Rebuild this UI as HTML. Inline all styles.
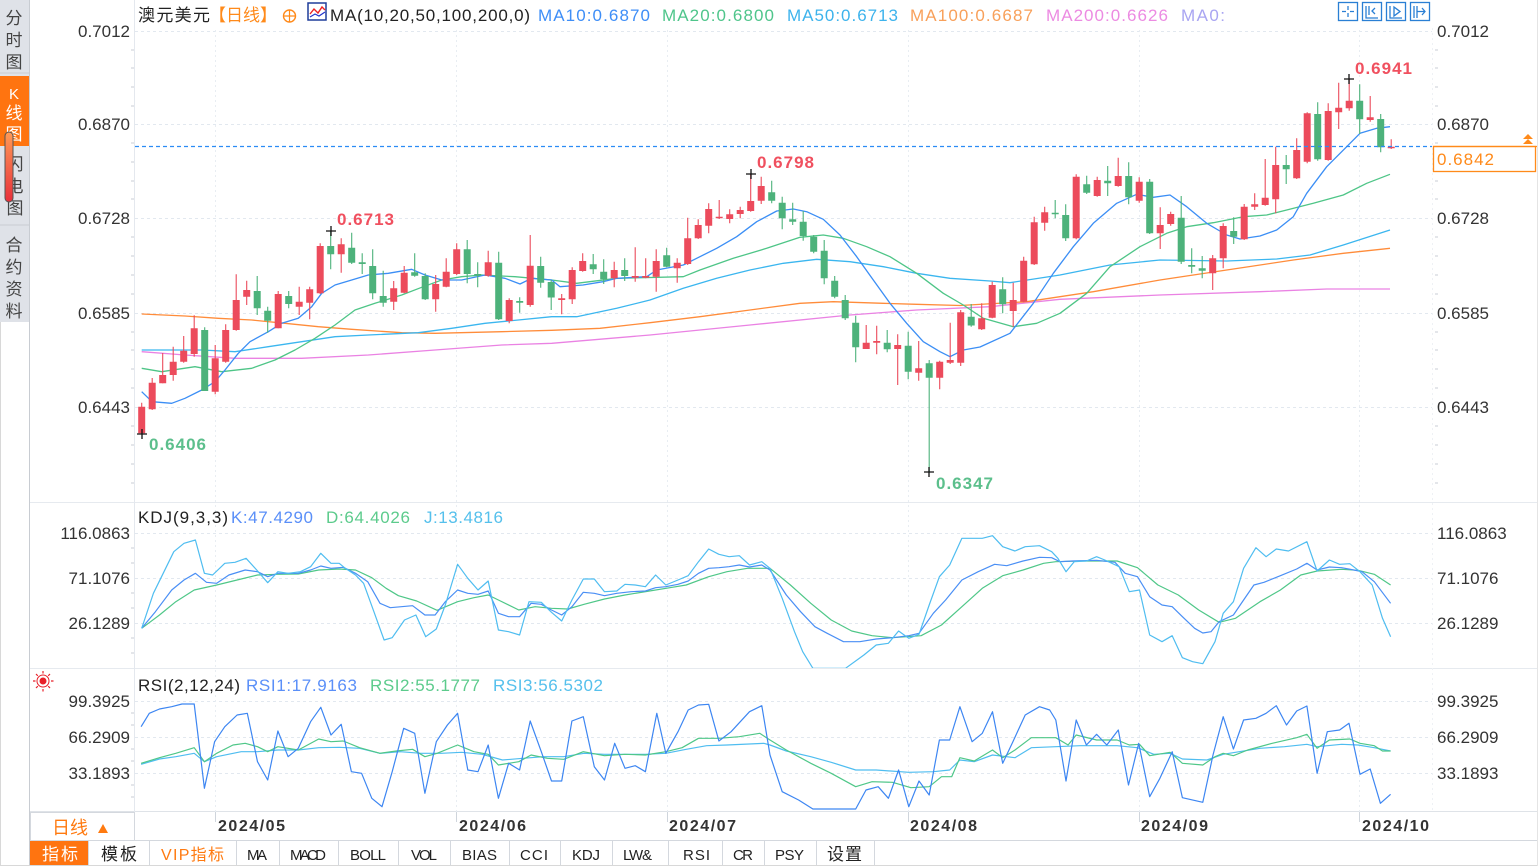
<!DOCTYPE html>
<html><head><meta charset="utf-8"><style>
html,body{margin:0;padding:0;background:#fff;width:1538px;height:866px;overflow:hidden}
svg{display:block}
text{font-family:"Liberation Sans","Noto Sans CJK SC",sans-serif}
.ax{font-size:17px;fill:#333}
.tb{font-family:"Liberation Serif","Noto Serif CJK SC",serif;font-size:15px;fill:#222}
</style></head><body>
<svg width="1538" height="866" viewBox="0 0 1538 866" xmlns="http://www.w3.org/2000/svg">
<!-- sidebar -->
<rect x="0" y="0" width="29" height="322" fill="#dfe2e8"/>
<rect x="0" y="76" width="29" height="70" fill="#ff7410"/>
<line x1="0" y1="73" x2="29" y2="73" stroke="#c9ccd2"/>
<line x1="0" y1="225" x2="29" y2="225" stroke="#c9ccd2"/>
<line x1="29.5" y1="0" x2="29.5" y2="866" stroke="#c8ccd2"/>
<line x1="0.5" y1="322" x2="0.5" y2="866" stroke="#d8d8d8"/>
<g font-size="17" fill="#444" text-anchor="middle" font-family="Liberation Sans,Noto Sans CJK SC,sans-serif">
<text x="14" y="24">分</text><text x="14" y="46">时</text><text x="14" y="68">图</text>
<text x="14" y="99" fill="#fff" font-size="15">K</text><text x="14" y="119" fill="#fff">线</text><text x="14" y="140" fill="#fff">图</text>
<text x="15" y="170">闪</text><text x="15" y="192">电</text><text x="15" y="214">图</text>
<text x="14" y="251">合</text><text x="14" y="273">约</text><text x="14" y="295">资</text><text x="14" y="317">料</text>
</g>
<rect x="5" y="132" width="8" height="70" rx="4" fill="url(#sg)" stroke="#555" stroke-width="1"/>
<defs><linearGradient id="sg" x1="0" y1="0" x2="0" y2="1"><stop offset="0" stop-color="#ff9a55"/><stop offset="1" stop-color="#e8303c"/></linearGradient></defs>

<!-- panel separators -->
<line x1="30" y1="502.5" x2="1538" y2="502.5" stroke="#e6eaef"/>
<line x1="30" y1="668.5" x2="1538" y2="668.5" stroke="#e6eaef"/>
<line x1="30" y1="811.5" x2="1538" y2="811.5" stroke="#dfe3e8"/>
<line x1="30" y1="840.5" x2="1538" y2="840.5" stroke="#d4d8de"/>
<line x1="134.5" y1="0" x2="134.5" y2="841" stroke="#e4e8ee"/>
<line x1="1432.5" y1="28" x2="1432.5" y2="812" stroke="#eef1f5" stroke-dasharray="2 3"/>

<!-- grid -->
<g stroke="#e2e8ef" stroke-dasharray="3 3">
<line x1="135" y1="31.5" x2="1432" y2="31.5"/><line x1="135" y1="124.5" x2="1432" y2="124.5"/>
<line x1="135" y1="218.5" x2="1432" y2="218.5"/><line x1="135" y1="313.5" x2="1432" y2="313.5"/>
<line x1="135" y1="407.5" x2="1432" y2="407.5"/>
<line x1="135" y1="533.5" x2="1432" y2="533.5"/><line x1="135" y1="578.5" x2="1432" y2="578.5"/><line x1="135" y1="623.5" x2="1432" y2="623.5"/>
<line x1="135" y1="701.5" x2="1432" y2="701.5"/><line x1="135" y1="737.5" x2="1432" y2="737.5"/><line x1="135" y1="773.5" x2="1432" y2="773.5"/>
</g>
<g stroke="#e8edf2" stroke-dasharray="2 3">
<line x1="215.5" y1="30" x2="215.5" y2="812"/><line x1="456.5" y1="30" x2="456.5" y2="812"/>
<line x1="667.5" y1="30" x2="667.5" y2="812"/><line x1="908.5" y1="30" x2="908.5" y2="812"/>
<line x1="1139.5" y1="30" x2="1139.5" y2="812"/><line x1="1359.5" y1="30" x2="1359.5" y2="812"/>
</g>
<!-- minor ticks left -->
<g stroke="#c8ced6">
<path d="M131 50h3M131 68h3M131 87h3M131 106h3M131 143h3M131 162h3M131 181h3M131 199h3M131 237h3M131 256h3M131 275h3M131 294h3M131 332h3M131 350h3M131 369h3M131 388h3M131 426h3M131 445h3M131 464h3M131 483h3"/>
<path d="M131 548h3M131 563h3M131 593h3M131 608h3M131 638h3M131 653h3M131 713h3M131 725h3M131 749h3M131 761h3M131 785h3M131 797h3"/>
<path d="M1435 50h3M1435 68h3M1435 87h3M1435 106h3M1435 143h3M1435 181h3M1435 199h3M1435 237h3M1435 256h3M1435 275h3M1435 294h3M1435 332h3M1435 350h3M1435 369h3M1435 388h3M1435 426h3M1435 445h3M1435 464h3M1435 483h3"/>
</g>

<!-- header -->
<text x="138" y="21" font-size="17" fill="#222" textLength="72">澳元美元</text>
<text x="209" y="21" font-size="17" fill="#ff8a1a" textLength="68">【日线】</text>
<circle cx="289.5" cy="16" r="6" fill="none" stroke="#ff8a1a" stroke-width="1.4"/>
<path d="M283.5 16h12M289.5 10v12" stroke="#ff8a1a" stroke-width="1.2"/>
<rect x="308" y="3" width="18" height="17" fill="#fff" stroke="#1f3d9a" stroke-width="1.5"/>
<path d="M310 14l4-5 4 4 4-6 3 3" stroke="#e22" fill="none" stroke-width="1.4"/><path d="M310 17l5-3 4 2 6-4" stroke="#23c" fill="none" stroke-width="1.2"/>
<text x="330" y="21" font-size="17" fill="#222" textLength="200">MA(10,20,50,100,200,0)</text>
<text x="538" y="21" font-size="17" fill="#3e8ef7" textLength="112">MA10:0.6870</text>
<text x="662" y="21" font-size="17" fill="#4fc58b" textLength="112">MA20:0.6800</text>
<text x="787" y="21" font-size="17" fill="#3db3ec" textLength="111">MA50:0.6713</text>
<text x="910" y="21" font-size="17" fill="#f8a05a" textLength="123">MA100:0.6687</text>
<text x="1046" y="21" font-size="17" fill="#ec8be2" textLength="122">MA200:0.6626</text>
<text x="1181" y="21" font-size="17" fill="#a9a5f2" textLength="44">MA0:</text>
<!-- top right icons -->
<g fill="none" stroke="#2a7fd4" stroke-width="1.3">
<rect x="1338.5" y="2.5" width="19" height="18"/><rect x="1362.5" y="2.5" width="19" height="18"/>
<rect x="1386.5" y="2.5" width="19" height="18"/><rect x="1410.5" y="2.5" width="19" height="18"/>
<path d="M1348 6v4M1348 13v4M1342 11.5h4M1350 11.5h4"/>
<path d="M1366 6v12h12M1369 6v9M1375 8l-3 3 3 3"/>
<path d="M1390 6v12h12M1394 7v9l6-4.5z"/>
<path d="M1414 6v12M1417 6v12M1417 11.5h8M1422 8l3 3.5-3 3.5"/>
</g>

<!-- axis labels main -->
<g class="ax" text-anchor="end">
<text x="130" y="37">0.7012</text><text x="130" y="130">0.6870</text><text x="130" y="224">0.6728</text>
<text x="130" y="319">0.6585</text><text x="130" y="413">0.6443</text>
<text x="130" y="539">116.0863</text><text x="130" y="584">71.1076</text><text x="130" y="629">26.1289</text>
<text x="130" y="707">99.3925</text><text x="130" y="743">66.2909</text><text x="130" y="779">33.1893</text>
</g>
<g class="ax">
<text x="1437" y="37">0.7012</text><text x="1437" y="130">0.6870</text><text x="1437" y="224">0.6728</text>
<text x="1437" y="319">0.6585</text><text x="1437" y="413">0.6443</text>
<text x="1437" y="539">116.0863</text><text x="1437" y="584">71.1076</text><text x="1437" y="629">26.1289</text>
<text x="1437" y="707">99.3925</text><text x="1437" y="743">66.2909</text><text x="1437" y="779">33.1893</text>
</g>

<!-- MA lines -->
<g fill="none" stroke-width="1.3" stroke-linejoin="round">
<polyline stroke="#ea82e3" points="141.7,351.7 185,355 235,358.3 301.7,358.3 368.3,355 435,350 501.7,345 551.7,343.3 650,335 750,325 850,315 916.7,310 990,306.7 1060,299.3 1160,295 1260,291.7 1326.7,289 1390,289"/>
<polyline stroke="#ff8c3a" points="141.7,314 185,316 218.3,318.3 251.7,320 285,323.3 318.3,326.7 351.7,329.3 401.7,332.7 435,333.3 501.7,331.7 551.7,330.3 600,328.3 650,322.7 700,316.7 750,310 800,303.3 833.3,301.7 883.3,303.3 916.7,304.3 960,305.5 1026.7,301.7 1093.3,291.7 1160,280 1226.7,270 1293.3,260 1343.3,253.3 1390,248.3"/>
<polyline stroke="#3bb6ef" points="141.7,350 201.7,350 235,351.7 268.3,346.7 301.7,341.7 335,336.7 368.3,335 418.3,332.7 451.7,328.3 485,323.3 518.3,320 551.7,316.7 576.7,316.7 616.7,308.3 650,300 683.3,288.3 716.7,278.3 750,270 783.3,263.3 816.7,259.3 850,261.7 883.3,266.7 916.7,273.3 950,278.3 990,281 1010,282.7 1060,275 1110,265 1160,260 1226.7,261 1276.7,259 1310,255 1343.3,245 1390,230"/>
<polyline stroke="#4ec587" points="141.7,368.3 161.7,371.7 195,366.7 221.7,371.7 251.7,368.3 275,360 295,350 315,338.3 335,325 355,310 375,303.3 401.7,295 421.7,287.3 441.7,280 461.7,276.7 481.7,275 515,276.7 551.7,280 576.7,283.3 616.7,278.3 683.3,276.7 700,270 733.3,258.3 766.7,248.3 800,237.3 823.3,235 843.3,238.3 866.7,246.7 890,256.7 916.7,273.3 943.3,293.3 963.3,305 983.3,318.3 1013.3,326.7 1036.7,323.3 1060,313.3 1086.7,293.3 1110,266.7 1140,246.7 1166.7,233.3 1186.7,226.7 1213.3,222.7 1243.3,216.7 1266.7,215 1286.7,210 1313.3,203.3 1343.3,195 1366.7,183.3 1390,174.3"/>
<polyline stroke="#3b8ef5" points="141.7,391.7 152,401.7 171.7,403.3 185,398.3 201.7,390 215,381.7 225,370 238.3,353.3 250,341.7 268.3,331.7 281.7,323.3 298.3,318.3 311.7,306.7 321.7,293.3 335,285 351.7,280 368.3,275 388.3,273.3 411.7,269.3 425,275 441.7,280 461.7,280 485,275 505,278.3 520,284 531.7,278.3 551.7,280 560,286.7 583,285 603,281.7 616.7,278.3 646.7,276.7 656.7,270 683.3,265 696.7,258.3 716.7,248.3 736.7,236.7 756.7,221.7 776.7,211 793.3,209 806.7,211.7 823.3,219.3 840,235 856.7,256.7 873.3,280 890,303.3 906.7,323.3 923.3,341.7 940,351.7 950,356.7 963.3,350 980,347 1010,333.3 1033.3,303.3 1053.3,273.3 1073.3,246.7 1093.3,223.3 1116.7,203.3 1136.7,194.3 1153.3,197.3 1170,195 1186.7,206.7 1206.7,223.3 1226.7,235 1240,239 1260,236 1276.7,230 1293.3,216.7 1306.7,193.3 1326.7,166.7 1346.7,146.7 1360,133.3 1376.7,128.3 1390,126.7"/>
</g>

<!-- candles -->
<path fill="none" stroke="#ec4b5c" stroke-width="1.1" d="M141.7 402.7V434M152.2 378V410M162.7 353V383.3M173.2 346.7V380.7M183.7 336V362.7M194.2 315.3V356.7M215.2 345V394.3M225.7 324.3V362.7M236.2 274.3V330.7M246.7 280.7V305M278.2 291V328.3M299.2 286.7V315M309.7 286.7V319.3M320.2 243.3V294M341.2 238.3V272.7M393.7 281V310M404.2 266V293.3M435.7 275V311.7M446.2 258.3V287.3M456.7 243.3V275M488.2 250.7V276.7M509.2 298.3V323.3M530.2 235V306.7M561.7 294V314.3M572.2 267.3V304M582.7 253.3V271.7M614.2 261.7V287.3M635.2 247.3V281.7M645.7 258.3V278.3M656.2 249.3V291.7M677.2 258.3V282.7M687.7 217.7V265M698.2 219.3V239M708.7 203.3V233.3M719.2 200V219M729.7 209.3V223.3M740.2 206.7V218.3M750.7 174V211.7M761.2 176.7V204M866.2 325V349M876.7 325.7V354.3M897.7 334.3V385M918.7 341V380.7M939.7 360.7V389.3M950.2 322.7V364M960.7 310V366M981.7 303.3V330M992.2 281.7V318.3M1013.2 282.7V326.7M1023.7 256.7V302.3M1034.2 216.7V265M1044.7 206.7V230.7M1076.2 174.3V239.3M1097.2 176.7V196.7M1118.2 157.7V186.7M1139.2 177.3V202.7M1160.2 207.3V249M1170.7 211.7V225.7M1212.7 255V290M1223.2 223.3V268.3M1244.2 204V240M1254.7 193.3V210M1265.2 159V205.7M1275.7 146.7V213.3M1296.7 138.3V179M1307.2 112.3V163.3M1328.2 103.3V160.7M1338.7 82.7V129M1349.2 79V110.7M1370.2 96V121.7M1391.2 139.3V149"/>
<path fill="#ec4b5c" d="M138.2 406.7h7V433.3h-7zM148.7 382.7h7V409.3h-7zM159.2 375h7V383.3h-7zM169.7 361.7h7V375h-7zM180.2 350.7h7V361.7h-7zM190.7 328.3h7V354h-7zM211.7 358.3h7V391.7h-7zM222.2 330h7V361.7h-7zM232.7 300h7V330h-7zM243.2 290h7V296.7h-7zM274.7 294h7V328.3h-7zM295.7 301.7h7V306.7h-7zM306.2 289.3h7V302.7h-7zM316.7 246h7V293.3h-7zM337.7 244.3h7V254.3h-7zM390.2 288.3h7V301.7h-7zM400.7 272.7h7V292.7h-7zM432.2 284h7V299.3h-7zM442.7 271.7h7V286.7h-7zM453.2 249.3h7V274h-7zM484.7 262.3h7V275.7h-7zM505.7 300h7V321h-7zM526.7 265.7h7V305h-7zM558.2 298.3h7V300h-7zM568.7 270h7V299.3h-7zM579.2 261h7V271h-7zM610.7 270h7V278.3h-7zM631.7 276h7V277.7h-7zM642.2 276h7V277.7h-7zM652.7 261h7V276.7h-7zM673.7 262.7h7V268.3h-7zM684.2 238.3h7V264h-7zM694.7 225h7V238.3h-7zM705.2 209h7V225.7h-7zM715.7 216.7h7V218.3h-7zM726.2 214.3h7V219h-7zM736.7 210h7V214h-7zM747.2 201h7V211h-7zM757.7 186h7V200.7h-7zM862.7 342.7h7V349h-7zM873.2 341h7V342.7h-7zM894.2 345h7V349h-7zM915.2 368.3h7V372.7h-7zM936.2 361.7h7V377.7h-7zM946.7 360h7V362.7h-7zM957.2 312.3h7V362.7h-7zM978.2 318.3h7V329.3h-7zM988.7 285h7V317.7h-7zM1009.7 300h7V311h-7zM1020.2 260.7h7V301.7h-7zM1030.7 222.3h7V264.3h-7zM1041.2 212.3h7V222.7h-7zM1072.7 176.7h7V238.3h-7zM1093.7 180h7V196h-7zM1114.7 176h7V186h-7zM1135.7 181.7h7V200.7h-7zM1156.7 225h7V233.3h-7zM1167.2 214h7V224h-7zM1209.2 258.3h7V273.3h-7zM1219.7 226h7V258.3h-7zM1240.7 206.7h7V239.3h-7zM1251.2 204.3h7V206.7h-7zM1261.7 197.7h7V205h-7zM1272.2 165h7V199.3h-7zM1293.2 150h7V178.3h-7zM1303.7 113.3h7V161.7h-7zM1324.7 111h7V160h-7zM1335.2 107.7h7V112.3h-7zM1345.7 100.7h7V108.3h-7zM1366.7 117.3h7V120h-7zM1387.7 146.7h7V148.3h-7z"/>
<path fill="none" stroke="#4db27b" stroke-width="1.1" d="M204.7 327.3V391M257.2 276V315M267.7 306.7V332.7M288.7 291V308.3M330.7 231V269.3M351.7 232.7V264M362.2 253.3V274M372.7 249.3V299.3M383.2 270.7V306.7M414.7 253.3V276.7M425.2 273.3V300M467.2 240V283.3M477.7 262.3V287.3M498.7 251.7V320M519.7 297.3V312.7M540.7 256.7V287.7M551.2 280V310M593.2 254V274M603.7 259.3V284M624.7 258.3V281M666.7 247.7V267.3M771.7 180.7V203.3M782.2 196.7V229.3M792.7 202.7V225M803.2 211V240.7M813.7 235V253.3M824.2 240V284.3M834.7 276V298.3M845.2 295V320M855.7 315.7V362.3M887.2 330V352.3M908.2 331.7V379.3M929.2 360V472.7M971.2 304V326.7M1002.7 277.3V313.3M1055.2 200V218.3M1065.7 204.3V241M1086.7 175.7V194M1107.7 166V196M1128.7 162.3V204.3M1149.7 179V234M1181.2 196V264M1191.7 248.3V273.3M1202.2 256V278.3M1233.7 217.3V244M1286.2 155V184M1317.7 102.3V160.7M1359.7 84.3V134M1380.7 114V152.3"/>
<path fill="#4db27b" d="M201.2 330h7V391h-7zM253.7 291h7V308.3h-7zM264.2 310.7h7V320.7h-7zM285.2 296h7V304h-7zM327.2 246h7V254.3h-7zM348.2 247.7h7V262.7h-7zM358.7 262.3h7V264h-7zM369.2 266h7V293.3h-7zM379.7 296h7V302.7h-7zM411.2 272.3h7V275.7h-7zM421.7 276h7V299.3h-7zM463.7 249.3h7V274h-7zM474.2 274h7V275.7h-7zM495.2 262.7h7V319.3h-7zM516.2 301h7V302.7h-7zM537.2 266h7V282.7h-7zM547.7 282h7V297.5h-7zM589.7 264.3h7V269.3h-7zM600.2 271.7h7V279.3h-7zM621.2 270h7V276h-7zM663.2 255.3h7V266.7h-7zM768.2 192.3h7V200.7h-7zM778.7 202.7h7V218.3h-7zM789.2 219.3h7V221.7h-7zM799.7 221.7h7V236h-7zM810.2 236.7h7V251.7h-7zM820.7 250.7h7V278.3h-7zM831.2 280.7h7V296.7h-7zM841.7 300h7V318.3h-7zM852.2 322.7h7V347.3h-7zM883.7 342.7h7V349.3h-7zM904.7 345.7h7V371.7h-7zM925.7 363.3h7V377.7h-7zM967.7 316.7h7V325.5h-7zM999.2 289.3h7V304.3h-7zM1051.7 212.7h7V214.3h-7zM1062.2 215h7V238.3h-7zM1083.2 184.3h7V192.7h-7zM1104.2 180.7h7V183.3h-7zM1125.2 176h7V197.3h-7zM1146.2 181.7h7V233.3h-7zM1177.7 217.7h7V261.7h-7zM1188.2 265h7V266.7h-7zM1198.7 268.3h7V270.7h-7zM1230.2 231h7V236.7h-7zM1282.7 165h7V169.3h-7zM1314.2 114h7V159.3h-7zM1356.2 100.7h7V119.3h-7zM1377.2 119h7V147.3h-7z"/>

<!-- current price line -->
<line x1="135" y1="146.5" x2="1432" y2="146.5" stroke="#2b8cf5" stroke-width="1.3" stroke-dasharray="4 3"/>
<rect x="1433.5" y="146.5" width="102" height="25" fill="#fff" stroke="#ff8a1a" stroke-width="1.3"/>
<line x1="1433" y1="146.5" x2="1538" y2="146.5" stroke="#ff8a1a" stroke-width="1.3"/>
<text x="1437" y="165" font-size="17" fill="#ff8a1a" textLength="57">0.6842</text>
<path d="M1528 134l-5 5h10zM1528 139l-5 5h10z" fill="#ff8a1a"/>

<!-- markers -->
<g stroke="#111" stroke-width="1.3">
<path d="M1344 79h10M1349 74v10"/><path d="M746 174h10M751 169v10"/><path d="M326 231h10M331 226v10"/>
<path d="M137 434h10M142 429v10"/><path d="M924 472h10M929 467v10"/>
</g>
<g font-size="17" font-weight="bold">
<text x="1355" y="74" fill="#f0505f" textLength="57">0.6941</text>
<text x="757" y="168" fill="#f0505f" textLength="57">0.6798</text>
<text x="337" y="225" fill="#f0505f" textLength="57">0.6713</text>
<text x="149" y="450" fill="#5cbf8c" textLength="57">0.6406</text>
<text x="936" y="489" fill="#5cbf8c" textLength="57">0.6347</text>
</g>

<!-- KDJ -->
<text x="138" y="523" font-size="17" fill="#222" textLength="90">KDJ(9,3,3)</text>
<text x="231" y="523" font-size="17" fill="#5a8ff8" textLength="82">K:47.4290</text>
<text x="326" y="523" font-size="17" fill="#5ccb8c" textLength="84">D:64.4026</text>
<text x="424" y="523" font-size="17" fill="#55c0ec" textLength="79">J:13.4816</text>
<svg x="0" y="503" width="1538" height="165" viewBox="0 503 1538 165" overflow="hidden">
<g fill="none" stroke-width="1.2" stroke-linejoin="round">
<polyline stroke="#4fc788" points="141.7,628.3 159.5,615 175.8,601.7 194.2,590 216.7,585 237.1,580 257.5,575 277.9,574.3 298.3,574 318.7,570 339.2,569 355.5,570 371.8,577.7 386.1,588.3 398.4,595.7 416.7,601 437.1,610.3 457.6,601.7 473.9,597.7 488.2,595 498.4,600 518.8,610 535.1,606.7 551.5,608.3 567.8,609 584.1,604.3 604.5,599 625,595 649.5,591 669.9,587.7 686.2,585 708.7,576.7 727,571.7 747.5,568.3 770,568.3 790.4,585 810.8,603.3 831.2,620 851.7,631 872.1,635.7 892.5,637.7 921.1,635.7 941.5,625 961.9,606.7 982.3,588.3 1002.7,575.7 1023.1,570 1043.6,563.3 1055.8,561.7 1080.3,561 1117.1,561 1137.5,567.7 1157.9,585 1178.3,595 1198.7,610 1219.1,622.3 1235.5,618.3 1260,601.7 1280.4,590 1300.8,575 1317.1,571 1341.6,569.3 1358,570.3 1374.3,574.3 1390.6,585"/>
<polyline stroke="#4a8ff5" points="141.7,628.3 155.4,611.7 171.7,590 184,580 195.4,573.3 206.5,582.3 216.7,583.3 228.9,575 245.2,570 257.5,571.7 267.7,576.7 277.9,573.3 298.3,573.3 310.6,570 320.8,566 331,568.3 343.2,567.3 355.5,573.3 367.7,581.7 380,603.3 390.2,607.7 412.6,605.7 424.9,615 435.1,615 445.3,601.7 457.6,590 467.8,593.3 478,594.3 488.2,591 498.4,613.3 508.6,616.7 519.6,616.7 531.1,603.3 541.3,604.3 551.5,610 561.7,615 571.9,606.7 583.3,592.3 594.3,593.3 604.5,595.7 616.8,593.3 631.1,591.7 645.4,591 655.6,587.7 665.8,586.7 678,584.3 688.2,581 698.5,573.3 708.7,568.3 718.9,567.7 729.1,566.7 739.3,565 749.5,567 761.8,565 770,570 786.3,595 800.6,611.7 814.9,626.7 827.2,633.3 843.5,641.7 859.8,641.7 876.2,639 892.5,637.7 908.8,635.7 919,633.3 933.3,613.3 945.6,600 961.9,580 978.2,571.7 994.6,564.3 1006.8,565.7 1023.1,561 1039.5,557.3 1051.7,557.7 1059.9,561.7 1072.1,561 1096.6,560.3 1115,562.3 1125.2,573.3 1137.5,576.7 1149.7,596.7 1162,605 1172.2,606.7 1182.4,616.7 1194.6,628.3 1202.8,633 1211,631.7 1219.1,621.7 1233.4,615 1243.6,600 1253.9,585 1264,582.3 1280.4,575.7 1296.7,569 1306.9,563.3 1317.1,570 1329.4,567 1341.6,567.7 1353.9,570 1362,571.7 1374.3,581.7 1390.6,603.3"/>
<polyline stroke="#4fbdf0" points="141.7,628.3 153.4,593.3 173.8,551.7 184,543.3 195.4,540 204.4,573.3 212.6,575 224.8,563.3 235,562.3 246.1,558.3 256.7,570 267.7,582.7 277.9,571.7 288.1,573.3 300.4,571.7 310.6,566.7 320.8,553.3 331,563.3 339.2,563.3 345.3,568.3 355.5,575 363.6,583.3 373.9,611.7 384.1,640 392.2,637.7 404.5,620 415.9,615 425.7,636.7 436.3,629 445.3,605 457.6,564.3 467.8,578.3 478,590 488.2,581 498.4,630 508.6,631.7 519.6,635 529,601.7 541.3,602.3 551.5,612.3 561.7,621 571.9,600 583.3,579 594.3,579 604.5,591.7 616.8,591 625,584.3 635.2,585 645.4,586.7 655.6,575 665.8,585 678,580 688.2,575.7 698.5,561.7 708.7,549 718.9,554.3 729.1,556.7 739.3,555.7 749.5,565 761.8,561.7 770,568.3 782.2,598.3 794.5,631.7 802.7,651.7 812.9,668.3 845.5,668.3 863.9,655 876.2,645 888.4,643.3 898.6,631 908.8,638.3 919,634.3 929.2,605 939.4,576.7 949.7,565 961.9,538.3 982.3,538.3 992.5,535.7 1002.7,546.7 1015,551 1025.2,546.7 1039.5,545.7 1051.7,551.7 1057.9,558.3 1066,571.7 1074.2,561.7 1086.4,561 1096.6,556.7 1104.8,560 1119.1,566.7 1129.3,591.7 1139.5,590 1149.7,635 1162,641.7 1172.2,635.7 1182.4,657.7 1192.6,661.7 1202.8,663.7 1215,641.7 1223.2,613.3 1233.4,601.7 1243.6,568.3 1255.9,547.7 1266.1,556.7 1276.3,549 1288.5,551 1306.9,541.7 1317.1,571 1329.4,560 1339.6,564.3 1349.8,563.7 1360,571.7 1372.2,585 1382.5,618.3 1390.6,636.7"/>
</g></svg>

<!-- RSI -->
<g transform="translate(43,681)"><circle r="3.5" fill="#e8202a"/><circle r="6" fill="none" stroke="#e8202a" stroke-width="1"/><path d="M0-10v2.5M0 8v2.5M-10 0h2.5M8 0h2.5M-7-7l1.8 1.8M5.2 5.2l1.8 1.8M7-7l-1.8 1.8M-5.2 5.2l-1.8 1.8" stroke="#e8202a" stroke-width="1.2"/></g>
<text x="138" y="691" font-size="17" fill="#222" textLength="102">RSI(2,12,24)</text>
<text x="246" y="691" font-size="17" fill="#5a8ff8" textLength="111">RSI1:17.9163</text>
<text x="370" y="691" font-size="17" fill="#5ccb8c" textLength="110">RSI2:55.1777</text>
<text x="493" y="691" font-size="17" fill="#55c0ec" textLength="110">RSI3:56.5302</text>
<g fill="none" stroke-width="1.2" stroke-linejoin="round">
<polyline stroke="#4fbdf0" points="141.1,764.3 159.5,759 175.8,756.7 194.2,753.3 204.4,761.7 216.7,756.7 241.2,751.7 257.5,751.7 277.9,750 298.3,750 318.7,747.7 339.2,747.3 359.6,748.3 380,753.3 400.4,751.7 420.8,753.3 441.2,753.3 461.6,752.3 482.1,754.3 502.5,760 522.9,758.3 543.3,756.7 563.7,756.7 584.1,753.3 604.5,754.3 645.4,754.3 665.8,753.3 686.2,749.3 706.6,745.7 727,745 763.8,743.3 770,745 786.3,751 810.8,756.7 831.2,762.3 855.7,770 876.2,770 908.8,772.3 933.3,771.7 949.7,770 959.9,760 974.2,761.7 992.5,755 1015,757.7 1031.3,747.7 1055.8,746.7 1080.3,745.7 1117.1,745.7 1137.5,747.7 1153.8,754.3 1170.1,753.3 1182.4,759 1206.9,760 1223.2,754.3 1260,748.3 1284.5,746.7 1306.9,744.3 1317.1,746.7 1341.6,744.3 1358,745 1374.3,747.7 1390.6,751"/>
<polyline stroke="#4fc788" points="141.1,763.3 159.5,757.7 175.8,753.3 194.2,747.7 204.4,761.7 216.7,753.3 233,745 245.2,743.3 257.5,746.7 267.7,751.7 277.9,746.7 298.3,750 318.7,739 331,741.7 343.2,741 359.6,747.7 380,753.3 396.3,751 412.6,749.3 424.9,756.7 437.1,753.3 457.6,745 473.9,751.7 488.2,754.3 498.4,765 518.8,761.7 531.1,755 547.4,758.3 563.7,759.3 583.3,751.7 604.5,755.7 625,754.3 645.4,755 665.8,751.7 682.1,747.7 698.5,738.3 718.9,738.3 739.3,736.7 759.7,733.3 770,740 786.3,750 810.8,763.3 831.2,773.3 855.7,786.7 872.1,781.7 892.5,782.3 910.9,787.7 929.2,786.7 941.5,776.7 951.7,776.7 959.9,757.7 974.2,761 992.5,750 1002.7,757.7 1015,750 1031.3,737.7 1055.8,737.7 1068.1,745 1076.2,735 1096.6,740 1117.1,740 1129.3,745 1139.5,744.3 1149.7,755.7 1170.1,752.3 1182.4,763.3 1202.8,765 1215,756.7 1223.2,753.3 1233.4,755.7 1247.7,750 1272.2,743.3 1296.7,737.7 1306.9,734.3 1317.1,748.3 1329.4,740 1349.8,739 1360,743.3 1374.3,745.7 1382.5,751 1390.6,751"/>
<polyline stroke="#3d86f2" points="141.1,726.7 149.3,713.3 159.5,709 171.7,706.7 182,704 194.2,704 204.4,788.3 214.6,741.7 224.8,726.7 237.1,715 247.3,713.3 257.5,761.7 267.7,780 277.9,731 288.1,756.7 298.3,748.3 310.6,721.7 320.8,707.3 331,735 341.2,724.3 351.4,771.7 361.6,773.3 371.8,798.3 382,806.7 392.2,771.7 403.7,728.3 414.7,733.3 424.9,793.3 436.3,741.7 447.4,725 457.6,713.3 467.8,770 478,771.7 488.2,745 498.4,798.3 508.6,763.3 519.6,770 530.2,721 541.3,751.7 551.5,781 561.7,781 571.9,721 583.3,716.7 594.3,766.7 604.5,780 614.7,743.3 625,768.3 635.2,765.7 645.4,771.7 656.8,713.3 665.8,753.3 678,731.7 688.2,710 698.5,705 708.7,704.3 718.9,741 731.1,731.7 749.5,711.7 761.8,705.7 770,755 782.2,791.7 798.6,800 812.9,809 855.7,809 866,790 878.2,786.7 888.4,798.3 898.6,770 908.8,806.7 919,781 929.2,795 939.4,740 949.7,740 959.9,706.7 972.1,741.7 982.3,733.3 992.5,711.7 1002.7,763.3 1012.9,741.7 1025.2,715 1039.5,706.7 1049.7,710 1055.8,720 1066,781 1076.2,720 1086.4,745 1096.6,734.3 1106.8,745 1118.3,730 1128.5,785 1138.7,743.3 1149.7,796.7 1159.9,778.3 1172.2,751.7 1182.4,797.7 1202.8,802.3 1213,755 1223.2,716.7 1233.4,749 1243.6,720 1255.9,718.3 1266.1,713.3 1276.3,705.7 1286.5,725 1296.7,711 1306.9,706 1317.1,773.3 1327.3,731.7 1339.6,730 1349,723.3 1360,774.3 1370.2,769 1380.4,803.3 1390.6,794.3"/>
</g>

<!-- date axis -->
<g stroke="#cfd5dc"><path d="M215.5 812v10M456.5 812v10M667.5 812v10M908.5 812v10M1139.5 812v10M1359.5 812v10"/></g>
<g font-size="16" font-weight="bold" fill="#333">
<text x="218" y="831" textLength="67">2024/05</text><text x="459" y="831" textLength="67">2024/06</text>
<text x="669" y="831" textLength="67">2024/07</text><text x="910" y="831" textLength="67">2024/08</text>
<text x="1141" y="831" textLength="67">2024/09</text><text x="1362" y="831" textLength="67">2024/10</text>
</g>
<rect x="30.5" y="812.5" width="104" height="28" fill="#fff" stroke="#d4d8de"/>
<text x="52" y="834" font-size="18" fill="#ff7a10" textLength="36">日线</text>
<path d="M98 833l5-9 5 9z" fill="#ff7a10"/>

<!-- toolbar -->
<rect x="30" y="841" width="1508" height="25" fill="#fff"/>
<rect x="30" y="841" width="58" height="25" fill="#ff7410"/>
<g stroke="#d4d8de"><path d="M88.5 841v25M149.5 841v25M236.5 841v25M279.5 841v25M338.5 841v25M398.5 841v25M450.5 841v25M509.5 841v25M560.5 841v25M612.5 841v25M668.5 841v25M722.5 841v25M764.5 841v25M816.5 841v25M874.5 841v25"/></g>
<g class="tb">
<text x="42" y="860" fill="#fff" font-size="17" textLength="36">指标</text>
<text x="101" y="860" font-size="17" textLength="36">模板</text>
<text x="161" y="860" fill="#ff7a10" font-size="16" textLength="63">VIP指标</text>
<text x="247" y="860" textLength="20">MA</text>
<text x="290" y="860" textLength="36">MACD</text>
<text x="350" y="860" textLength="36">BOLL</text>
<text x="411" y="860" textLength="26">VOL</text>
<text x="462" y="860" textLength="35">BIAS</text>
<text x="520" y="860" textLength="28">CCI</text>
<text x="572" y="860" textLength="28">KDJ</text>
<text x="623" y="860" textLength="29">LW&amp;</text>
<text x="683" y="860" textLength="27">RSI</text>
<text x="733" y="860" textLength="20">CR</text>
<text x="775" y="860" textLength="29">PSY</text>
<text x="827" y="860" font-size="17" textLength="35">设置</text>
</g>
<line x1="0" y1="865.5" x2="1538" y2="865.5" stroke="#d8d8d8"/>
<line x1="1537.5" y1="0" x2="1537.5" y2="866" stroke="#e4e4e4"/>
</svg>
</body></html>
